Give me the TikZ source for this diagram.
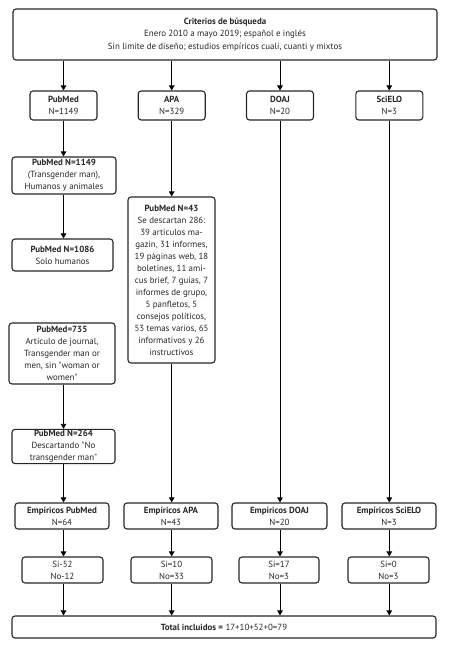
\documentclass[tikz,border=0pt]{standalone}
\usepackage{fontspec}
\setmainfont{PT Sans}
\usetikzlibrary{arrows.meta}
\tikzset{
  box/.style={draw=black!85, line width=1.1pt, rounded corners=3pt, align=center,
    inner sep=1pt, text=black!85, font=\fontsize{8.9}{12}\selectfont},
  arr/.style={draw=black, line width=0.9pt, -{Triangle[length=5pt,width=5.5pt]}}
}
\begin{document}
\begin{tikzpicture}[x=1pt,y=-1pt]
\useasboundingbox (0,0) rectangle (450,650);
% top
\node[box, minimum width=424pt, minimum height=51pt, font=\fontsize{8.9}{12.7}\selectfont] (top) at (225,34.5)
  {\textbf{Criterios de búsqueda}\\Enero 2010 a mayo 2019; español e inglés\\Sin limite de diseño; estudios empíricos cuali, cuanti y mixtos};
% databases
\node[box, minimum width=67pt, minimum height=29pt] (pub) at (63.5,105.5) {\textbf{PubMed}\\N=1149};
\node[box, minimum width=67pt, minimum height=29pt] (apa) at (171.7,105.5) {\textbf{APA}\\N=329};
\node[box, minimum width=67pt, minimum height=29pt] (doaj) at (280,105.5) {\textbf{DOAJ}\\N=20};
\node[box, minimum width=67pt, minimum height=29pt] (sci) at (389.3,105.5) {\textbf{SciELO}\\N=3};
% pubmed chain
\node[box, minimum width=104pt, minimum height=37pt] (p1149) at (64,175.5) {\textbf{PubMed N=1149}\\(Transgender man),\\Humanos y animales};
\node[box, minimum width=101pt, minimum height=32pt] (p1086) at (62.5,255) {\textbf{PubMed N=1086}\\Solo humanos};
\node[box, minimum width=106pt, minimum height=61pt] (p735) at (62,353.5) {\textbf{PubMed=735}\\Articulo de journal,\\Transgender man or\\men, sin \textquotedbl woman or\\women\textquotedbl};
\node[box, minimum width=103pt, minimum height=31pt] (p264) at (63.5,446.5) {\textbf{PubMed N=264}\\Descartando \textquotedbl No\\transgender man\textquotedbl};
% apa detail
\node[box, minimum width=87pt, minimum height=166pt] (a43) at (171.5,280) {\textbf{PubMed N=43}\\Se descartan 286:\\39 articulos ma-\\gazin, 31 informes,\\19 páginas web, 18\\boletines, 11 ami-\\cus brief, 7 guías, 7\\informes de grupo,\\5 panfletos, 5\\consejos políticos,\\53 temas varios, 65\\informativos y 26\\instructivos};
% empiricos
\node[box, minimum width=94pt, minimum height=26pt] (ep) at (62,516) {\textbf{Empíricos PubMed}\\N=64};
\node[box, minimum width=94pt, minimum height=26pt] (ea) at (171,516) {\textbf{Empíricos APA}\\N=43};
\node[box, minimum width=95pt, minimum height=26pt] (ed) at (279.5,516) {\textbf{Empíricos DOAJ}\\N=20};
\node[box, minimum width=94pt, minimum height=26pt] (es) at (389,516) {\textbf{Empíricos SciELO}\\N=3};
% si/no
\node[box, minimum width=81pt, minimum height=26pt] (sp) at (62.5,570) {Si-52\\No-12};
\node[box, minimum width=81pt, minimum height=26pt] (sa) at (171.5,570) {Si=10\\No=33};
\node[box, minimum width=80pt, minimum height=26pt] (sd) at (279,570) {Si=17\\No=3};
\node[box, minimum width=81pt, minimum height=26pt] (ss) at (388.5,570) {Si=0\\No=3};
% total
\node[box, minimum width=424pt, minimum height=22pt] (tot) at (224,627) {\textbf{Total incluidos =} 17+10+52+0=79};
% arrows
\draw[arr] (top.south -| pub) -- (pub.north);
\draw[arr] (top.south -| apa) -- (apa.north);
\draw[arr] (top.south -| doaj) -- (doaj.north);
\draw[arr] (top.south -| sci) -- (sci.north);
\draw[arr] (pub.south) -- (pub.south |- p1149.north);
\draw[arr] (p1149.south -| pub) -- (pub |- p1086.north);
\draw[arr] (p735.south -| pub) -- (pub |- p264.north);
\draw[arr] (p264.south -| pub) -- (pub |- ep.north);
\draw[arr] (apa.south) -- (apa.south |- a43.north);
\draw[arr] (a43.south -| apa) -- (apa |- ea.north);
\draw[arr] (doaj.south) -- (doaj.south |- ed.north);
\draw[arr] (sci.south) -- (sci.south |- es.north);
\draw[arr] (ep.south -| pub) -- (pub |- sp.north);
\draw[arr] (ea.south -| apa) -- (apa |- sa.north);
\draw[arr] (ed.south -| doaj) -- (doaj |- sd.north);
\draw[arr] (es.south -| sci) -- (sci |- ss.north);
\draw[arr] (sp.south -| pub) -- (pub |- tot.north);
\draw[arr] (sa.south -| apa) -- (apa |- tot.north);
\draw[arr] (sd.south -| doaj) -- (doaj |- tot.north);
\draw[arr] (ss.south -| sci) -- (sci |- tot.north);
\end{tikzpicture}
\end{document}
